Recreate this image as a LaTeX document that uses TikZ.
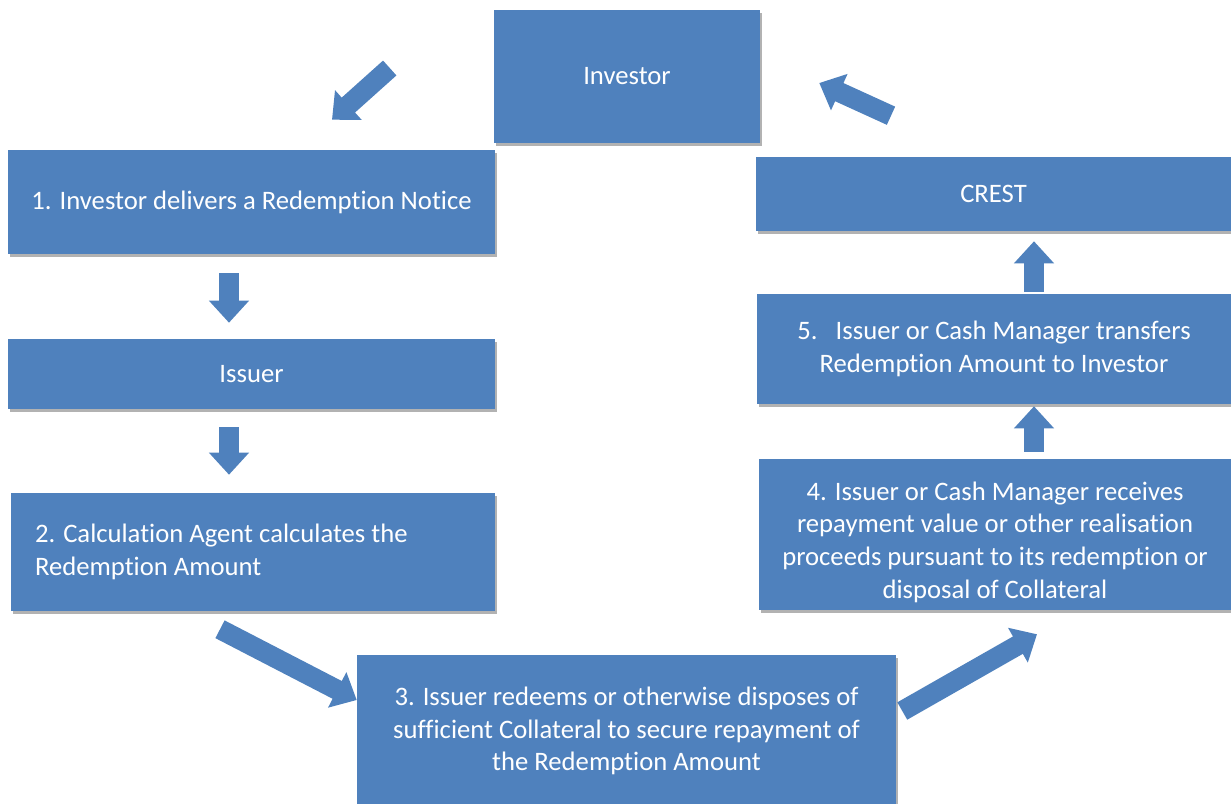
\documentclass[tikz,border=0pt]{standalone}
\usepackage{fontspec}
\setmainfont{Carlito}[Ligatures=NoCommon]
\usepackage{xcolor}
\usetikzlibrary{positioning,arrows.meta,shadows}
\definecolor{boxblue}{HTML}{4F81BD}

\begin{document}
\begin{tikzpicture}[x=0.75pt, y=-0.75pt, font=\fontsize{20}{24.5}\selectfont,
  box/.style={fill=boxblue, text=white, align=center, inner sep=0pt,
    drop shadow={shadow xshift=1.2pt, shadow yshift=-2pt, opacity=.3, fill=black}},
  blk/.style={draw=boxblue, line width=15pt, -{Triangle[length=16.5pt,width=29pt]}}]
\useasboundingbox (0,0) rectangle (1231,803);

% boxes
\node[box, minimum width=199.5pt, minimum height=99.75pt] (investor) at (627,76.5) {Investor};
\node[box, minimum width=365.25pt, minimum height=78pt] (notice) at (251.5,202) {1. Investor delivers a Redemption Notice};
\node[box, minimum width=365.25pt, minimum height=52.5pt] (issuer) at (251.5,374) {Issuer};
\node[box, align=flush left, text width=327pt, inner xsep=18pt, minimum height=88.5pt] (calc) at (253,552)
  {2. Calculation Agent calculates the\\Redemption Amount};
\node[box, minimum width=404.25pt, minimum height=114pt] (redeem) at (626.5,731)
  {3. Issuer redeems or otherwise disposes of\\sufficient Collateral to secure repayment of\\the Redemption Amount};
\node[box, minimum width=354pt, minimum height=113.25pt] (proceeds) at (995,534.5)
  {\rule{0pt}{25pt}4. Issuer or Cash Manager receives\\repayment value or other realisation\\proceeds pursuant to its redemption or\\disposal of Collateral};
\node[box, minimum width=355.5pt, minimum height=82.5pt] (transfer) at (994,349)
  {5.\ \ \ Issuer or Cash Manager transfers\\Redemption Amount to Investor};
\node[box, minimum width=356.25pt, minimum height=55.5pt] (crest) at (993.5,194) {CREST};

% block arrows
\draw[blk] ([shift={(-104,-8.5)}]investor.west) -- ([shift={(80.5,-30)}]notice.north);
\draw[blk] ([shift={(-22.5,19)}]notice.south) -- ([shift={(-22.5,-16)}]issuer.north);
\draw[blk] ([shift={(-22.5,18)}]issuer.south) -- ([shift={(-24,-18)}]calc.north);
\draw[blk] ([shift={(-33,18)}]calc.south) -- ([shift={(0,-31)}]redeem.west);
\draw[blk] ([shift={(6,-20)}]redeem.east) -- ([shift={(42,24)}]proceeds.south);
\draw[blk] ([shift={(39,-7)}]proceeds.north) -- ([shift={(40,2)}]transfer.south);
\draw[blk] ([shift={(40,-2)}]transfer.north) -- ([shift={(40.5,10)}]crest.south);
\draw[blk] ([shift={(-102.5,-41)}]crest.north) -- ([shift={(59,6.5)}]investor.east);
\end{tikzpicture}
\end{document}
